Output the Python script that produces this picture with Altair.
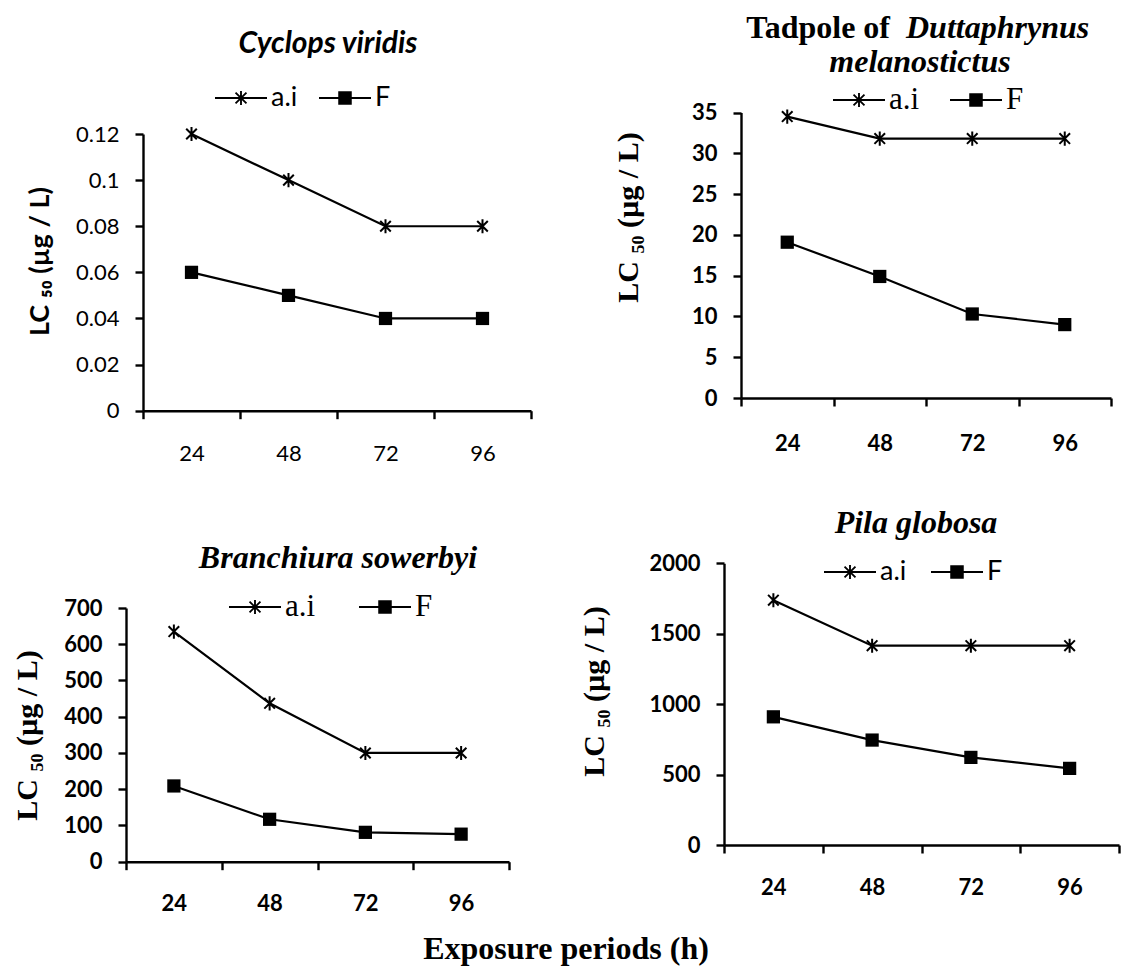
import altair as alt
import pandas as pd

# ---------------- data ----------------
periods = ["24", "48", "72", "96"]
series_names = ["a.i", "F"]

cyclops_ai = [0.12, 0.10, 0.08, 0.08]
cyclops_f = [0.06, 0.05, 0.04, 0.04]
tadpole_ai = [34.5, 31.8, 31.8, 31.8]
tadpole_f = [19.1, 14.9, 10.3, 9.0]
branch_ai = [635, 437, 300, 300]
branch_f = [209, 117, 81, 76]
pila_ai = [1738, 1415, 1415, 1415]
pila_f = [910, 745, 622, 544]

cyclops_ticks = [0, 0.02, 0.04, 0.06, 0.08, 0.10, 0.12]
tadpole_ticks = [0, 5, 10, 15, 20, 25, 30, 35]
branch_ticks = [0, 100, 200, 300, 400, 500, 600, 700]
pila_ticks = [0, 500, 1000, 1500, 2000]

panel_titles = ["Cyclops viridis", "Tadpole of", "Duttaphrynus", "melanostictus",
                "Branchiura sowerbyi", "Pila globosa"]
x_title = "Exposure periods (h)"
y_title_sans = "LC \u2085\u2080    (µg  /  L)"
y_title_serif = "LC \u2085\u2080 (µg / L)"

SANS = "Lato"
SERIF = "Liberation Serif"

W, H = 1114, 962


# ---------------- marker shapes (unit square paths) ----------------
def seg(x1, y1, x2, y2, t):
    dx, dy = x2 - x1, y2 - y1
    n = (dx * dx + dy * dy) ** 0.5
    nx, ny = -dy / n * t, dx / n * t
    pts = [(x1 + nx, y1 + ny), (x2 + nx, y2 + ny), (x2 - nx, y2 - ny), (x1 - nx, y1 - ny)]
    return "M" + "L".join(f"{px:.4f},{py:.4f}" for px, py in pts) + "Z"


ASTER = "M-0.75,-0.75L0.75,0.75M-0.75,0.75L0.75,-0.75M0,-1V1"
LW = 0.036
LEG_AI = (seg(-1, 0, 1, 0, LW) + seg(-0.21, -0.21, 0.21, 0.21, LW)
          + seg(-0.21, 0.21, 0.21, -0.21, LW) + seg(0, -0.27, 0, 0.27, LW))
LEG_F = seg(-1, 0, 1, 0, LW) + seg(-0.26, 0, 0.26, 0, 0.26)


def panel(ai, f, ticks, fmt, xr, yr, tick_font_weight, ytitle, ytitle_font,
          ytitle_size, ytitle_xy, leg_xy, leg_font, leg_size, leg_pad, xlab_pad):
    df = pd.DataFrame({
        "period": periods * 2,
        "value": ai + f,
        "series": ["a.i"] * 4 + ["F"] * 4,
    })
    x = alt.X(
        "period:O", sort=periods,
        scale=alt.Scale(type="band", domain=periods, range=xr,
                        paddingInner=0, paddingOuter=0),
        axis=alt.Axis(orient="bottom", offset=-(H - yr[0]), tickBand="extent",
                      domainColor="black", domainWidth=2.4, tickColor="black",
                      tickWidth=2.4, tickSize=8, labelFont=SANS, labelFontSize=22,
                      labelFontWeight=tick_font_weight, labelColor="black",
                      labelPadding=xlab_pad, labelAngle=0, title=None, grid=False),
    )
    y = alt.Y(
        "value:Q",
        scale=alt.Scale(domain=[ticks[0], ticks[-1]], range=yr, nice=False, zero=True),
        axis=alt.Axis(orient="left", offset=-xr[0], values=ticks, format=fmt,
                      domainColor="black", domainWidth=2.4, tickColor="black",
                      tickWidth=2.4, tickSize=8, labelFont=SANS, labelFontSize=22,
                      labelFontWeight=tick_font_weight, labelColor="black",
                      labelPadding=16, grid=False, title=ytitle,
                      titleFont=ytitle_font, titleFontSize=ytitle_size,
                      titleFontWeight="bold", titleColor="black",
                      titleX=ytitle_xy[0] - xr[0], titleY=ytitle_xy[1],
                      titleAngle=270, titleAlign="center", titleBaseline="middle"),
    )
    base = alt.Chart(df)
    line = base.mark_line(color="black", strokeWidth=2.2).encode(
        x=x, y=y, detail="series:N")
    ai_pts = base.transform_filter(alt.datum.series == "a.i").mark_point(
        shape=ASTER, size=200, filled=False, color="black", strokeWidth=2,
        opacity=1).encode(x=x, y=y)
    f_pts = base.transform_filter(alt.datum.series == "F").mark_point(
        shape="square", size=175, filled=True, color="black", opacity=1
    ).encode(x=x, y=y)
    leg = alt.Chart(alt.Data(values=[])).mark_point(
        filled=True, color="black", opacity=1
    ).encode(
        shape=alt.Shape(
            "series:N",
            scale=alt.Scale(domain=series_names, range=[LEG_AI, LEG_F]),
            legend=alt.Legend(
                orient="none", legendX=leg_xy[0], legendY=leg_xy[1],
                direction="horizontal", title=None, labelFont=leg_font,
                labelFontSize=leg_size, labelColor="black", symbolSize=2704,
                symbolStrokeWidth=0, symbolFillColor="black", symbolOpacity=1,
                labelOffset=4, columnPadding=leg_pad, padding=0, rowPadding=0,
            ),
        )
    )
    return alt.layer(line, ai_pts, f_pts, leg)


p1 = panel(cyclops_ai, cyclops_f, cyclops_ticks, ".2~f", [135, 523], [402.7, 126],
           "normal", y_title_sans, SANS, 27, (32, 253), (207, 64), SANS, 27, 21, 25)
p2 = panel(tadpole_ai, tadpole_f, tadpole_ticks, "d", [733, 1103], [390, 104.5],
           "bold", y_title_serif, SERIF, 30, (620, 209), (825, 66), SERIF, 31, 30, 27)
p3 = panel(branch_ai, branch_f, branch_ticks, "d", [118, 501], [853.7, 600],
           "bold", y_title_serif, SERIF, 30, (19, 727), (221, 573), SERIF, 31, 43, 24)
p4 = panel(pila_ai, pila_f, pila_ticks, "d", [716, 1111], [837, 555.3],
           "bold", y_title_serif, SERIF, 30, (586, 683), (816, 538), SANS, 27, 24, 24)


def label(txt, x, y, font, size, style="normal", align="center"):
    return alt.Chart(alt.Data(values=[{"t": txt}])).mark_text(
        font=font, fontSize=size, fontWeight="bold", fontStyle=style,
        align=align, baseline="middle", color="black"
    ).encode(text="t:N", x=alt.value(x), y=alt.value(y))


t1 = label(panel_titles[0], 320, 36, SANS, 30, "italic")
t2a = label(panel_titles[1], 882, 20, SERIF, 32, "normal", "right")
t2b = label(panel_titles[2], 898, 20, SERIF, 32, "italic", "left")
t2c = label(panel_titles[3], 912, 54, SERIF, 32, "italic")
t3 = label(panel_titles[4], 330, 550, SERIF, 32, "italic")
t4 = label(panel_titles[5], 908, 515, SERIF, 32, "italic")
tx = label(x_title, 558, 941, SERIF, 32)

chart = alt.layer(p1, p2, p3, p4, t1, t2a, t2b, t2c, t3, t4, tx).resolve_scale(
    x="independent", y="independent", shape="independent"
).resolve_legend(shape="independent").properties(
    width=W, height=H, autosize=alt.AutoSizeParams(type="none"), padding=0
).configure_view(stroke=None)

chart.save("out.html", embed_options={"renderer": "svg", "actions": False})
